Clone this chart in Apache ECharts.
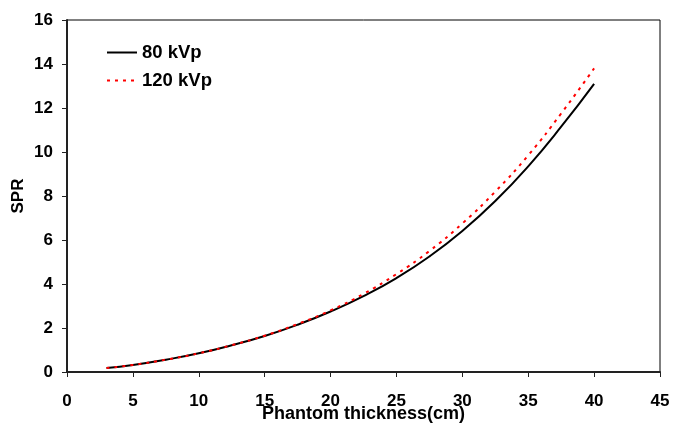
<!DOCTYPE html>
<html>
<head>
<meta charset="utf-8">
<script src="https://cdn.jsdelivr.net/npm/echarts@6/dist/echarts.min.js"></script>
<style>html,body{margin:0;padding:0;background:#fff}#c{width:673px;height:424px}</style>
</head>
<body>
<div id="c"></div>
<script>
const thickness = [3, 5, 7.5, 10, 12.5, 15, 17.5, 20, 22.5, 25, 27.5, 30, 32.5, 35, 37.5, 40];
const spr80 =  [0.18, 0.32, 0.56, 0.85, 1.22, 1.64, 2.15, 2.75, 3.45, 4.27, 5.25, 6.41, 7.77, 9.35, 11.15, 13.10];
const spr120 = [0.18, 0.32, 0.56, 0.85, 1.22, 1.65, 2.18, 2.80, 3.55, 4.45, 5.50, 6.75, 8.20, 9.85, 11.75, 13.80];
const seriesNames = ['80 kVp', '120 kVp'];

const font = 'Liberation Sans, Arial, sans-serif';
const chart = echarts.init(document.getElementById('c'));
chart.setOption({
  animation: false,
  backgroundColor: '#fff',
  grid: { left: 67, right: 13, top: 20, bottom: 52, show: true, borderColor: '#000', borderWidth: 1,
          containLabel: false, outerBoundsMode: 'none' },
  legend: {
    left: 101, top: 38, orient: 'vertical', itemGap: 9, itemWidth: 30, itemHeight: 18,
    itemStyle: { opacity: 0 },
    textStyle: { fontFamily: font, fontWeight: 'bold', fontSize: 18.5, color: '#000' },
    data: seriesNames
  },
  xAxis: {
    type: 'value', min: 0, max: 45, interval: 5,
    name: 'Phantom thickness(cm)', nameLocation: 'middle', nameGap: 33, nameMoveOverlap: false,
    nameTextStyle: { fontFamily: font, fontWeight: 'bold', fontSize: 18, color: '#000' },
    axisLine: { show: true, onZero: false, lineStyle: { color: '#222', width: 2 } },
    axisTick: { show: true, length: 5, lineStyle: { color: '#222', width: 1 } },
    axisLabel: { fontFamily: font, fontWeight: 'bold', fontSize: 17, color: '#000', margin: 21 },
    splitLine: { show: false }
  },
  yAxis: {
    type: 'value', min: 0, max: 16, interval: 2,
    name: 'SPR', nameLocation: 'middle', nameGap: 40, nameRotate: 90, nameMoveOverlap: false,
    nameTextStyle: { fontFamily: font, fontWeight: 'bold', fontSize: 17, color: '#000' },
    axisLine: { show: true, lineStyle: { color: '#222', width: 2 } },
    axisTick: { show: true, length: 5, lineStyle: { color: '#222', width: 1 } },
    axisLabel: { fontFamily: font, fontWeight: 'bold', fontSize: 17, color: '#000', margin: 14 },
    splitLine: { show: false }
  },
  series: [
    {
      name: seriesNames[0], type: 'line', smooth: true, showSymbol: false, symbol: 'none',
      data: thickness.map((x, i) => [x, spr80[i]]),
      lineStyle: { color: '#000', width: 2 }, itemStyle: { color: '#000' }, z: 2
    },
    {
      name: seriesNames[1], type: 'line', smooth: true, showSymbol: false, symbol: 'none',
      data: thickness.map((x, i) => [x, spr120[i]]),
      lineStyle: { color: '#f00', width: 2, type: [3, 5] }, itemStyle: { color: '#f00' }, z: 3
    }
  ]
});
</script>
</body>
</html>
